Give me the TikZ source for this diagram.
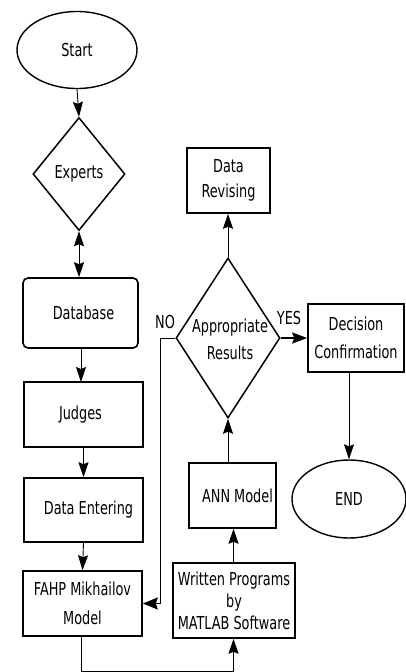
\documentclass[tikz,border=0pt]{standalone}
\usepackage{fontspec}
\usepackage{graphicx}
\setmainfont{DejaVu Sans Condensed}
\usetikzlibrary{shapes.geometric,arrows.meta}
\newcommand\stx[1]{\scalebox{1}[1.25]{#1}}
\tikzset{
  box/.style={draw, line width=1.6pt, rectangle, inner sep=0pt, align=center},
  oval/.style={draw, line width=1.4pt, ellipse, inner sep=0pt},
  dia/.style={draw, line width=1.5pt, diamond, inner sep=0pt},
  txt/.style={inner sep=0pt, align=center},
  tip/.style={-{Stealth[length=15pt,width=10pt,inset=2pt]}},
  conn/.style={line width=0.9pt, tip},
  dconn/.style={line width=0.9pt, {Stealth[length=15pt,width=10pt,inset=2pt]}-{Stealth[length=15pt,width=10pt,inset=2pt]}},
}
\begin{document}
\begin{tikzpicture}[x=1pt,y=-1pt,font=\fontsize{14.3}{27}\selectfont]
\useasboundingbox (0,0) rectangle (405,672);
% shapes
\node[oval, minimum width=120pt, minimum height=77pt] (start) at (77,50) {\stx{Start}};
\node[dia, minimum width=92pt, minimum height=113pt] (experts) at (79,174) {};
\node[txt] at (experts) {\stx{Experts}};
\node[box, rounded corners=5pt, minimum width=115pt, minimum height=70pt] (db) at (80.5,313) {\hspace*{6pt}\stx{Database}};
\node[box, minimum width=119pt, minimum height=65pt] (judges) at (83.5,414.5) {\hspace*{-6pt}\stx{Judges}};
\node[box, minimum width=119pt, minimum height=64pt] (enter) at (83.5,510) {\hspace*{10pt}\stx{Data Entering}};
\node[box, minimum width=119pt, minimum height=65pt, font=\fontsize{14.3}{29}\selectfont] (fahp) at (82.5,603.5) {\stx{FAHP Mikhailov}\\\stx{Model}};
\node[box, minimum width=122pt, minimum height=75pt, font=\fontsize{14.3}{22}\selectfont] (written) at (234,600.5) {\stx{Written Programs}\\\stx{by}\hspace*{26pt}\\\stx{MATLAB Software}};
\node[box, minimum width=87pt, minimum height=65pt] (ann) at (232.5,495.5) {\hspace*{10pt}\stx{ANN Model}};
\node[dia, minimum width=104pt, minimum height=160pt] (app) at (228,338) {};
\node[txt] at (230,339) {\stx{Appropriate}\\\stx{Results}};
\node[box, minimum width=83pt, minimum height=65pt, font=\fontsize{14.3}{25}\selectfont] (rev) at (228.5,180.5) {\stx{Data}\\\stx{Revising}};
\node[box, minimum width=96pt, minimum height=68pt, font=\fontsize{14.3}{28}\selectfont] (dec) at (356,338) {\stx{Decision}\\\stx{Confirmation}};
\node[oval, minimum width=114pt, minimum height=78pt] (end) at (349,499) {\stx{END}};
% labels
\node[txt] (no) at (165,322) {\stx{NO}};
\node[txt] (yes) at (289,318) {\stx{YES}};
% connectors
\coordinate (bl) at (81.5,671);
\coordinate (br) at (233.5,671);
\coordinate (nt) at (160,338);
\coordinate (nb) at (160,603.5);
\draw[conn] (start.south) -- (experts.north);
\draw[dconn] (experts.south) -- (experts.south |- db.north);
\draw[conn] (81,348) -- (81,382);
\draw[conn] (judges.south) -- (enter.north);
\draw[conn] (enter.south) -- (fahp.north);
\draw[conn] (fahp.south -| bl) -- (bl) -- (br) -- (br |- written.south);
\draw[conn] (written.north -| br) -- (br |- ann.south);
\draw[conn] (ann.north -| app.south) -- (app.south);
\draw[conn] (app.north) -- (app.north |- rev.south);
\draw[line width=2pt, -{Stealth[length=15pt,width=11pt,inset=2pt]}] (app.east) -- (dec.west);
\draw[conn] (dec.south -| end.north) -- (end.north);
\draw[line width=0.9pt, -{Stealth[length=15pt,width=12pt,inset=2pt]}] (app.west) -- (nt) -- (nb) -- (fahp.east);
\end{tikzpicture}
\end{document}
